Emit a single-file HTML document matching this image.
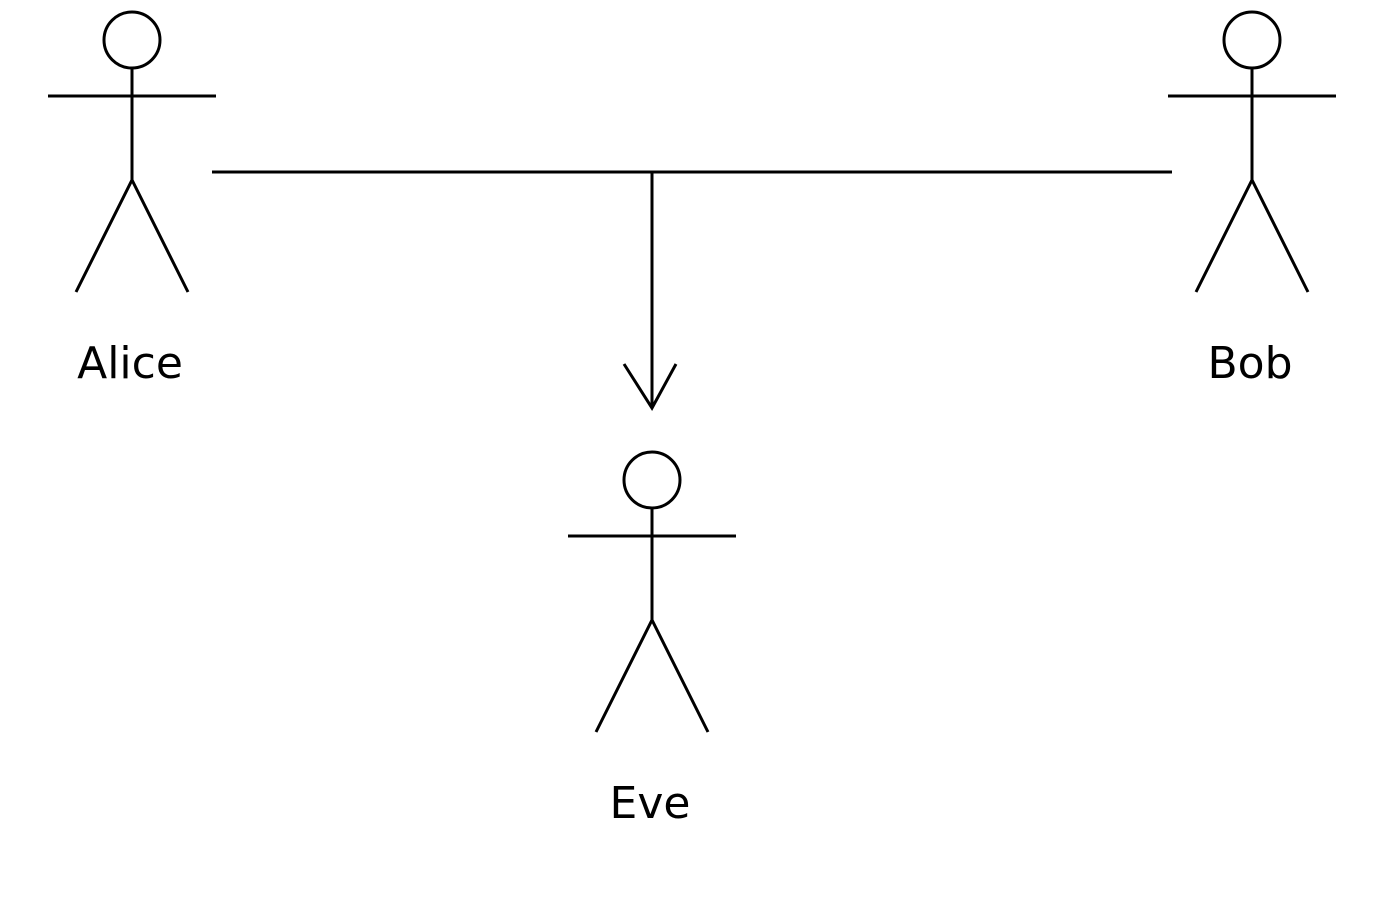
<!DOCTYPE html>
<html><head><meta charset="utf-8"><style>html,body{margin:0;padding:0;background:#fff}svg{display:block}</style></head>
<body>
<svg width="1380" height="900" viewBox="0 0 1380 900" font-family="'DejaVu Sans','Liberation Sans',sans-serif" font-size="44" fill="none" stroke="#000" stroke-width="3">
<g>
<circle cx="132" cy="40" r="28"/>
<line x1="132" y1="68" x2="132" y2="180"/>
<line x1="48" y1="96" x2="216" y2="96"/>
<polyline points="76,292 132,180 188,292"/>
<text x="130" y="378" text-anchor="middle" fill="#000" stroke="none">Alice</text>
</g>
<g>
<circle cx="1252" cy="40" r="28"/>
<line x1="1252" y1="68" x2="1252" y2="180"/>
<line x1="1168" y1="96" x2="1336" y2="96"/>
<polyline points="1196,292 1252,180 1308,292"/>
<text x="1250" y="378" text-anchor="middle" fill="#000" stroke="none">Bob</text>
</g>
<g>
<circle cx="652" cy="480" r="28"/>
<line x1="652" y1="508" x2="652" y2="620"/>
<line x1="568" y1="536" x2="736" y2="536"/>
<polyline points="596,732 652,620 708,732"/>
<text x="650" y="818" text-anchor="middle" fill="#000" stroke="none">Eve</text>
</g>
<g>
<line x1="212" y1="172" x2="1172" y2="172"/>
<line x1="652" y1="172" x2="652" y2="408"/>
<polyline points="624,364 652,408 676,364"/>
</g>
</svg>
</body></html>
